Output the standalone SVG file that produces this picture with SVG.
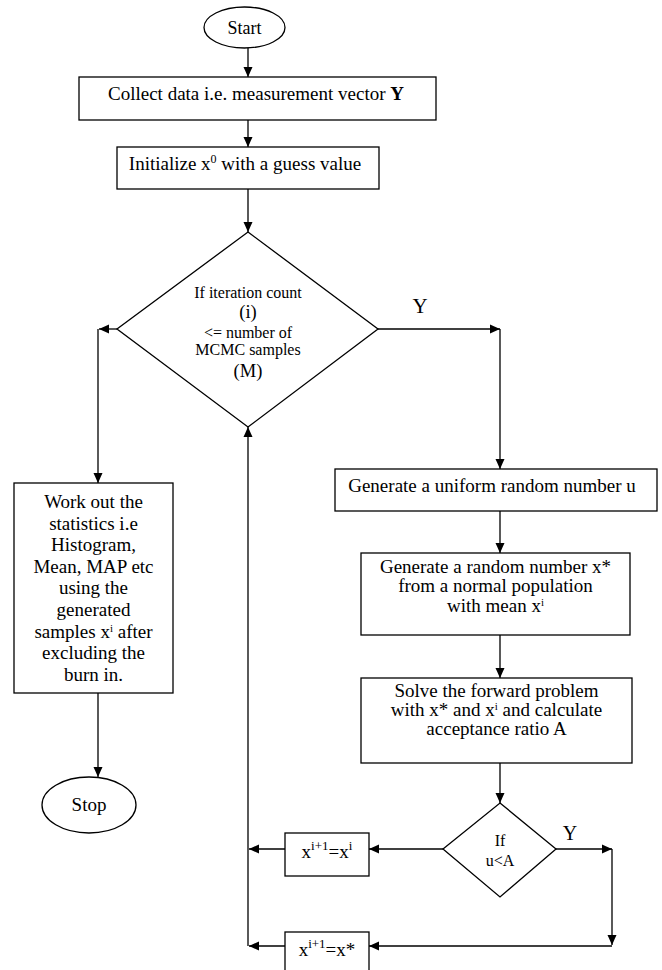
<svg xmlns="http://www.w3.org/2000/svg" width="662" height="970" viewBox="0 0 662 970">
<style>
.shape{fill:#fff;stroke:#000;stroke-width:1.3}
.t{font-family:"Liberation Serif","Times New Roman",serif;font-size:19px;fill:#000;text-anchor:middle}
.s{font-size:16px}
.b{font-size:18.5px}
.y{font-size:21px}
.c line,.c path{stroke:#000;stroke-width:1.3;fill:none}
</style>
<defs>
<marker id="ah" markerUnits="userSpaceOnUse" markerWidth="10" markerHeight="10" refX="10" refY="5" orient="auto">
<path d="M0,0.5 L10,5 L0,9.5 z" fill="#000"/>
</marker>
</defs>
<rect width="662" height="970" fill="#fff"/>

<g class="c" id="connectors">
<line x1="248" y1="48" x2="248" y2="77" marker-end="url(#ah)"/>
<line x1="248" y1="120" x2="248" y2="147" marker-end="url(#ah)"/>
<line x1="248" y1="189" x2="248" y2="232" marker-end="url(#ah)"/>
<line x1="117" y1="329" x2="99" y2="329" marker-end="url(#ah)"/>
<line x1="98" y1="329" x2="98" y2="483" marker-end="url(#ah)"/>
<line x1="98" y1="693" x2="98" y2="777" marker-end="url(#ah)"/>
<line x1="378" y1="329" x2="500" y2="329" marker-end="url(#ah)"/>
<line x1="500" y1="329" x2="500" y2="469" marker-end="url(#ah)"/>
<line x1="500" y1="511" x2="500" y2="553" marker-end="url(#ah)"/>
<line x1="500" y1="635" x2="500" y2="678" marker-end="url(#ah)"/>
<line x1="500" y1="763" x2="500" y2="803" marker-end="url(#ah)"/>
<line x1="556" y1="849" x2="612" y2="849" marker-end="url(#ah)"/>
<line x1="612" y1="849" x2="612" y2="945" marker-end="url(#ah)"/>
<line x1="612" y1="946" x2="369" y2="946" marker-end="url(#ah)"/>
<line x1="443" y1="849" x2="369" y2="849" marker-end="url(#ah)"/>
<line x1="285" y1="849" x2="249" y2="849" marker-end="url(#ah)"/>
<line x1="285" y1="946" x2="249" y2="946" marker-end="url(#ah)"/>
<line x1="248" y1="946" x2="248" y2="427" marker-end="url(#ah)"/>
<text class="t y" x="420" y="313">Y</text>
<text class="t y" x="570" y="840" style="font-size:20px">Y</text>
</g>

<g id="start">
<ellipse class="shape" cx="244.5" cy="27.5" rx="40.5" ry="20.5"/>
<text class="t" x="244.5" y="34" style="font-size:18px">Start</text>
</g>

<g id="collect">
<rect class="shape" x="79" y="77" width="357" height="43"/>
<text class="t" x="256" y="100">Collect data i.e. measurement vector <tspan font-weight="bold">Y</tspan></text>
</g>

<g id="init">
<rect class="shape" x="117" y="147" width="262" height="42"/>
<text class="t" x="245" y="170">Initialize x<tspan dy="-7" font-size="12">0</tspan><tspan dy="7"> with a guess value</tspan></text>
</g>

<g id="cond1">
<polygon class="shape" points="248,232 378,329 248,427 117,329"/>
<text class="t s" x="248" y="298">If iteration count</text>
<text class="t b" x="248" y="318">(i)</text>
<text class="t s" x="248" y="338">&lt;= number of</text>
<text class="t s" x="248" y="355">MCMC samples</text>
<text class="t b" x="248" y="377">(M)</text>
</g>

<g id="stats">
<rect class="shape" x="14" y="483" width="159" height="210"/>
<text class="t" x="93.5" y="508">Work out the</text>
<text class="t" x="93.5" y="529.6">statistics i.e</text>
<text class="t" x="93.5" y="551.2">Histogram,</text>
<text class="t" x="93.5" y="572.8">Mean, MAP etc</text>
<text class="t" x="93.5" y="594.4">using the</text>
<text class="t" x="93.5" y="616">generated</text>
<text class="t" x="93.5" y="637.6">samples x<tspan dy="-6" font-size="11">i</tspan><tspan dy="6"> after</tspan></text>
<text class="t" x="93.5" y="659.2">excluding the</text>
<text class="t" x="93.5" y="680.8">burn in.</text>
</g>

<g id="stop">
<ellipse class="shape" cx="89" cy="805" rx="47" ry="28"/>
<text class="t" x="89" y="811">Stop</text>
</g>

<g id="uniform">
<rect class="shape" x="335" y="469" width="322" height="42"/>
<text class="t" x="492" y="492">Generate a uniform random number u</text>
</g>

<g id="normal">
<rect class="shape" x="361" y="553" width="269" height="82"/>
<text class="t" x="495.5" y="573">Generate a random number x*</text>
<text class="t" x="495.5" y="592">from a normal population</text>
<text class="t" x="495.5" y="611.5">with mean x<tspan dy="-6" font-size="11">i</tspan></text>
</g>

<g id="forward">
<rect class="shape" x="361" y="678" width="271" height="85"/>
<text class="t" x="496.5" y="697">Solve the forward problem</text>
<text class="t" x="496.5" y="716">with x* and x<tspan dy="-6" font-size="11">i</tspan><tspan dy="6"> and calculate</tspan></text>
<text class="t" x="496.5" y="735">acceptance ratio A</text>
</g>

<g id="cond2">
<polygon class="shape" points="500,803 556,849 500,897 443,849"/>
<text class="t s" x="500" y="846">If</text>
<text class="t s" x="500" y="866">u&lt;A</text>
</g>

<g id="keep">
<rect class="shape" x="285" y="833" width="84" height="43"/>
<text class="t" x="327" y="858">x<tspan dy="-8" font-size="13">i+1</tspan><tspan dy="8">=x</tspan><tspan dy="-8" font-size="13">i</tspan></text>
</g>

<g id="accept">
<rect class="shape" x="285" y="932" width="84" height="43"/>
<text class="t" x="327" y="956">x<tspan dy="-8" font-size="13">i+1</tspan><tspan dy="8">=x*</tspan></text>
</g>
</svg>
